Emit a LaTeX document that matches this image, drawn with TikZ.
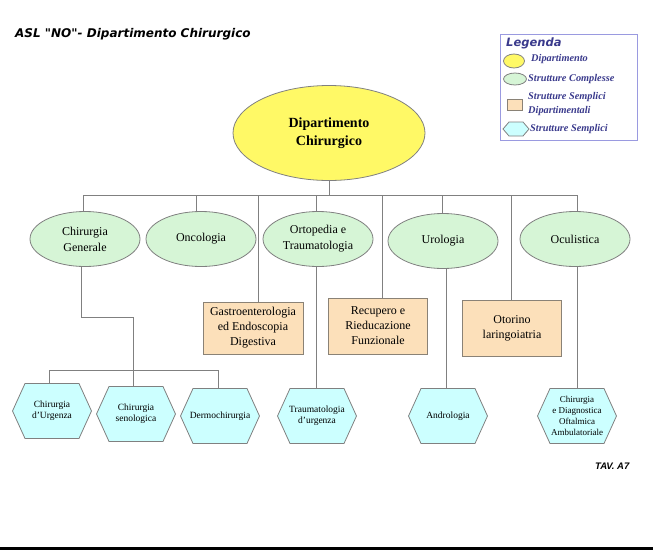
\documentclass[tikz,border=0pt]{standalone}
\usepackage{fontspec}
\setmainfont{Liberation Serif}
\newfontfamily\sansfont{Liberation Sans}
\newfontfamily\casualfont{DejaVu Sans}
\usetikzlibrary{shapes.geometric,backgrounds,calc}
\definecolor{linegray}{HTML}{808080}
\definecolor{deptyellow}{HTML}{FFF966}
\definecolor{complgreen}{HTML}{D6F5D6}
\definecolor{boxpeach}{HTML}{FCE0BA}
\definecolor{boxedge}{HTML}{8A8276}
\definecolor{hexcyan}{HTML}{CCFFFF}
\definecolor{legendblue}{HTML}{9A9AE0}
\definecolor{legendtext}{HTML}{3A3A8C}
\begin{document}
\begin{tikzpicture}[x=1pt,y=-1pt,
  conn/.style={draw=linegray, line width=0.9pt},
  dept/.style={ellipse, draw=linegray, line width=0.8pt, fill=deptyellow, inner sep=0, align=center, font=\bfseries\fontsize{14}{18}\selectfont},
  compl/.style={ellipse, draw=linegray, line width=0.8pt, fill=complgreen, inner sep=0, minimum width=110pt, minimum height=55pt, align=center, font=\fontsize{12}{16}\selectfont},
  sdip/.style={rectangle, draw=boxedge, line width=0.9pt, fill=boxpeach, inner sep=0, minimum width=100pt, minimum height=54pt, align=center, font=\fontsize{12}{15}\selectfont},
  hexa/.default=12.5pt,
  hexa/.style={rectangle, inner sep=0, align=center, font=\fontsize{9.5}{11}\selectfont, minimum width=81pt, minimum height=57pt,
    path picture={
      \draw[draw=linegray, line width=0.8pt, fill=hexcyan]
        ([xshift=1pt]path picture bounding box.west) --
        ([xshift=1pt+#1, yshift=-1pt]path picture bounding box.north west) --
        ([xshift=-1pt-#1, yshift=-1pt]path picture bounding box.north east) --
        ([xshift=-1pt]path picture bounding box.east) --
        ([xshift=-1pt-#1, yshift=1pt]path picture bounding box.south east) --
        ([xshift=1pt+#1, yshift=1pt]path picture bounding box.south west) -- cycle;}},
  legtext/.style={anchor=west, inner sep=0, align=left, text=legendtext, font=\bfseries\itshape\fontsize{10.3}{14}\selectfont},
  titletext/.style={anchor=west, inner sep=0, font=\casualfont\bfseries\itshape\fontsize{12}{14}\selectfont}
]
\path[use as bounding box] (0,0) rectangle (653,555);

% title
\node[titletext] (title) at (15,34) {ASL "NO"- Dipartimento Chirurgico};
\node[titletext, font=\sansfont\bfseries\itshape\fontsize{9.5}{11}\selectfont] (tav) at (595,466) {TAV. A7};

% legend
\node[draw=legendblue, line width=1pt, minimum width=137pt, minimum height=106pt, inner sep=0] (legend) at (568.5,87) {};
\node[anchor=west, inner sep=0, text=legendtext, font=\casualfont\bfseries\itshape\fontsize{11.5}{13}\selectfont] (legt) at (506,43) {Legenda};
\node[ellipse, draw=linegray, line width=0.8pt, fill=deptyellow, minimum width=21pt, minimum height=14pt, inner sep=0] (l1) at (514,61) {};
\node[legtext] (l1t) at (531,59) {Dipartimento};
\node[ellipse, draw=linegray, line width=0.8pt, fill=complgreen, minimum width=23pt, minimum height=12pt, inner sep=0] (l2) at (515,79) {};
\node[legtext] (l2t) at (528,79) {Strutture Complesse};
\node[rectangle, draw=boxedge, line width=0.9pt, fill=boxpeach, minimum width=15pt, minimum height=11pt, inner sep=0] (l3) at (514.5,104.5) {};
\node[legtext] (l3t) at (528,104) {Strutture Semplici\\Dipartimentali};
\node[hexa=6pt, minimum width=28pt, minimum height=16pt] (l4) at (516,129) {};
\node[legtext] (l4t) at (530,129) {Strutture Semplici};

% main
\node[dept, minimum width=192pt, minimum height=95pt] (dip) at (329,133) {Dipartimento\\Chirurgico};

% strutture complesse
\node[compl] (cg) at (85,239) {Chirurgia\\Generale};
\node[compl] (onc) at (201,239) {Oncologia};
\node[compl] (ort) at (318,239) {Ortopedia e\\Traumatologia};
\node[compl] (uro) at (443,241) {Urologia};
\node[compl] (ocu) at (575,239) {Oculistica};

% strutture semplici dipartimentali
\node[sdip, minimum height=52pt] (gas) at (253,328) {Gastroenterologia\\ed Endoscopia\\Digestiva};
\node[sdip, minimum width=99pt, minimum height=56pt] (rec) at (378,326) {Recupero e\\Rieducazione\\Funzionale};
\node[sdip, minimum width=99pt, minimum height=56pt] (oto) at (512,328) {Otorino\\laringoiatria};

% strutture semplici
\node[hexa] (urg) at (52,411) {Chirurgia\\d'Urgenza};
\node[hexa] (sen) at (136,414) {Chirurgia\\senologica};
\node[hexa] (der) at (220,416) {Dermochirurgia};
\node[hexa] (tra) at (317,416) {Traumatologia\\d'urgenza};
\node[hexa] (and) at (448,416) {Andrologia};
\node[hexa, font=\fontsize{9}{11}\selectfont] (oft) at (577,416) {Chirurgia\\e Diagnostica\\Oftalmica\\Ambulatoriale};

% connectors
\begin{scope}[on background layer]
  \coordinate (bus) at (329,195);
  \coordinate (tcg) at (83,195);
  \coordinate (tonc) at (196,195);
  \coordinate (tgas) at (258,195);
  \coordinate (tort) at (316,195);
  \coordinate (trec) at (382,195);
  \coordinate (turo) at (442,195);
  \coordinate (toto) at (511,195);
  \coordinate (tocu) at (577,195);
  \draw[conn] (dip.center) -- (bus);
  \draw[conn] (tcg) -- (tocu);
  \draw[conn] (tcg) -- (tcg |- cg.center);
  \draw[conn] (tonc) -- (tonc |- onc.center);
  \draw[conn] (tgas) -- (tgas |- gas.center);
  \draw[conn] (tort) -- (tort |- tra.center);
  \draw[conn] (trec) -- (trec |- rec.center);
  \draw[conn] (turo) -- (turo |- uro.center);
  \draw[conn] (toto) -- (toto |- oto.center);
  \draw[conn] (tocu) -- (tocu |- oft.center);
  \draw[conn] ([xshift=3pt]uro.center) -- ([xshift=3pt]uro.center |- and.center);
  % Chirurgia Generale branch
  \coordinate (elbow) at (133,317);
  \coordinate (hbL) at (49,370);
  \coordinate (hbR) at (218,370);
  \draw[conn] ([xshift=-4pt]cg.center) |- (elbow) -- (elbow |- sen.center);
  \draw[conn] (hbL) -- (hbR);
  \draw[conn] (hbL) -- (hbL |- urg.center);
  \draw[conn] (hbR) -- (hbR |- der.center);
\end{scope}

% bottom rule
\fill[black] (0,547) rectangle (653,550);
\end{tikzpicture}
\end{document}
